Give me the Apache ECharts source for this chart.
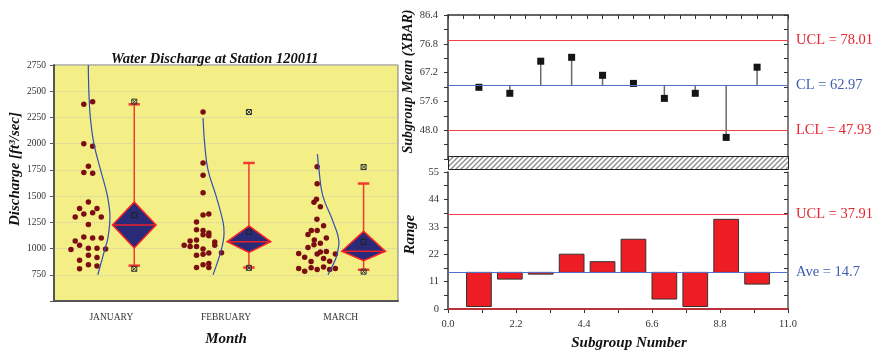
<!DOCTYPE html>
<html>
<head>
<meta charset="utf-8">
<script src="https://cdn.jsdelivr.net/npm/echarts@6/dist/echarts.min.js"></script>
<style>
  html, body { margin: 0; padding: 0; background: #fff; }
  #chart { width: 875px; height: 352px; }
</style>
</head>
<body>
<div id="chart"></div>
<script>
const serif = "'Liberation Serif', 'Times New Roman', serif"

// left chart: discharge per month
const months = ['JANUARY', 'FEBRUARY', 'MARCH']
// [x offset inside the month band, discharge]
const janPoints = [[-0.240, 2375], [-0.163, 2400], [-0.240, 2000], [-0.163, 1975], [-0.200, 1785], [-0.240, 1726], [-0.163, 1717], [-0.200, 1444], [-0.277, 1381], [-0.125, 1381], [-0.315, 1302], [-0.240, 1329], [-0.163, 1342], [-0.088, 1302], [-0.200, 1230], [-0.240, 1110], [-0.163, 1101], [-0.088, 1101], [-0.315, 1072], [-0.277, 1032], [-0.352, 990], [-0.200, 1002], [-0.125, 1002], [-0.050, 996], [-0.200, 936], [-0.125, 915], [-0.277, 888], [-0.200, 846], [-0.125, 834], [-0.277, 807]]
const febPoints = [[-0.200, 2302], [-0.200, 1816], [-0.200, 1699], [-0.200, 1531], [-0.200, 1320], [-0.150, 1329], [-0.257, 1252], [-0.257, 1180], [-0.200, 1171], [-0.200, 1131], [-0.150, 1149], [-0.150, 1122], [-0.313, 1072], [-0.257, 1081], [-0.098, 1063], [-0.098, 1032], [-0.365, 1032], [-0.313, 1020], [-0.257, 1020], [-0.200, 996], [-0.039, 960], [-0.150, 957], [-0.200, 945], [-0.257, 936], [-0.200, 846], [-0.150, 858], [-0.150, 819], [-0.257, 819]]
const marPoints = [[-0.205, 1780], [-0.205, 1617], [-0.211, 1471], [-0.233, 1441], [-0.177, 1399], [-0.207, 1279], [-0.149, 1218], [-0.256, 1171], [-0.205, 1171], [-0.285, 1135], [-0.230, 1081], [-0.125, 1101], [-0.177, 1050], [-0.233, 1036], [-0.285, 1011], [-0.366, 954], [-0.205, 948], [-0.177, 966], [-0.125, 973], [-0.046, 948], [-0.314, 918], [-0.149, 906], [-0.258, 876], [-0.096, 879], [-0.366, 810], [-0.314, 783], [-0.258, 816], [-0.205, 801], [-0.149, 825], [-0.096, 801], [-0.046, 810]]
// distribution curves
const janCurve = [[-0.201, 2750], [-0.196, 2500], [-0.183, 2250], [-0.152, 2000], [-0.094, 1750], [-0.034, 1500], [-0.012, 1300], [-0.030, 1100], [-0.055, 1000], [-0.118, 750]]
const febCurve = [[-0.200, 2245], [-0.186, 2000], [-0.157, 1750], [-0.086, 1500], [-0.025, 1250], [-0.017, 1150], [-0.038, 1000], [-0.113, 750]]
const marCurve = [[-0.203, 1900], [-0.189, 1750], [-0.155, 1500], [-0.064, 1250], [-0.015, 1050], [-0.021, 1000], [-0.044, 900], [-0.111, 750]]
// diamond boxes
const whiskerHigh = [2375, 1816, 1620]
const q3 = [1444, 1216, 1164]
const median = [1225, 1065, 975]
const q1 = [1005, 963, 885]
const whiskerLow = [837, 819, 798]
const means = [1318, 1158, 1063]
const maxs = [2401, 2302, 1777]
const mins = [807, 816, 780]

// right chart: XBAR-R
const subgroups = [1, 2, 3, 4, 5, 6, 7, 8, 9, 10]
const xbar = [62.3, 60.3, 71.0, 72.3, 66.3, 63.6, 58.6, 60.3, 45.6, 69.0]
const ranges = [1, 12, 14, 22, 19, 28, 4, 1, 36, 10]
const xbarUCL = 78.01
const xbarCL = 62.97
const xbarLCL = 47.93
const rangeUCL = 37.91
const rangeAve = 14.7
const rangeLCL = 0

const boxShift = 0.2
const boxHalf = 0.19
const capHalf = 0.05

let pts = [janPoints, febPoints, marPoints]
let curves = [janCurve, febCurve, marCurve]

let hatch = document.createElement('canvas')
hatch.width = 5
hatch.height = 5
let hc = hatch.getContext('2d')
hc.fillStyle = '#fff'
hc.fillRect(0, 0, 5, 5)
hc.strokeStyle = '#222'
hc.lineWidth = 1
hc.beginPath()
hc.moveTo(-1, 6); hc.lineTo(6, -1)
hc.moveTo(-1, 1); hc.lineTo(1, -1)
hc.moveTo(4, 6); hc.lineTo(6, 4)
hc.stroke()

let nameStyle = {fontFamily: serif, fontWeight: 'bold', fontStyle: 'italic', fontSize: 15, color: '#111'}

let series = []
pts.forEach((p, i) => {
  series.push({
    type: 'scatter', xAxisIndex: 1, yAxisIndex: 0, symbolSize: 5.5,
    itemStyle: {color: '#7a0e12', opacity: 1},
    data: p.map(d => [i + 0.5 + d[0], d[1]])
  })
  series.push({
    type: 'line', xAxisIndex: 1, yAxisIndex: 0, symbol: 'none', smooth: 0.4,
    lineStyle: {color: '#2f4fb5', width: 1.2},
    data: curves[i].map(d => [i + 0.5 + d[0], d[1]])
  })
})

series.push({
  type: 'custom', xAxisIndex: 1, yAxisIndex: 0, z: 5,
  data: months.map((m, i) => [i, whiskerLow[i], q1[i], median[i], q3[i], whiskerHigh[i]]),
  renderItem (params, api) {
    let cx = api.value(0) + 0.5 + boxShift
    let lo = api.coord([cx, api.value(1)])
    let b1 = api.coord([cx, api.value(2)])
    let md = api.coord([cx, api.value(3)])
    let b3 = api.coord([cx, api.value(4)])
    let hi = api.coord([cx, api.value(5)])
    let hw = api.size([boxHalf, 0])[0]
    let cw = api.size([capHalf, 0])[0]
    let red = '#f23a2e'
    return {
      type: 'group',
      children: [
        {type: 'line', shape: {x1: lo[0], y1: lo[1], x2: hi[0], y2: hi[1]}, style: {stroke: red, lineWidth: 1.5}},
        {type: 'line', shape: {x1: lo[0] - cw, y1: lo[1], x2: lo[0] + cw, y2: lo[1]}, style: {stroke: red, lineWidth: 2.5}},
        {type: 'line', shape: {x1: hi[0] - cw, y1: hi[1], x2: hi[0] + cw, y2: hi[1]}, style: {stroke: red, lineWidth: 2.5}},
        {type: 'polygon', shape: {points: [[b3[0], b3[1]], [md[0] + hw, md[1]], [b1[0], b1[1]], [md[0] - hw, md[1]]]}, style: {fill: '#2a2b78', stroke: '#ff2222', lineWidth: 1.5}},
        {type: 'line', shape: {x1: md[0] - hw, y1: md[1], x2: md[0] + hw, y2: md[1]}, style: {stroke: '#e8202a', lineWidth: 1.5}}
      ]
    }
  }
})

series.push({
  type: 'scatter', xAxisIndex: 1, yAxisIndex: 0, z: 6, symbol: 'rect', symbolSize: 5,
  itemStyle: {color: 'transparent', borderColor: '#222', borderWidth: 1, opacity: 1},
  data: means.map((v, i) => [i + 0.5 + boxShift, v])
})
series.push({
  type: 'scatter', xAxisIndex: 1, yAxisIndex: 0, z: 6,
  symbol: 'path://M0,0L10,0L10,10L0,10ZM0,0L10,10M10,0L0,10', symbolSize: 5,
  itemStyle: {color: 'transparent', borderColor: '#333', borderWidth: 1, opacity: 1},
  data: maxs.map((v, i) => [i + 0.5 + boxShift, v]).concat(mins.map((v, i) => [i + 0.5 + boxShift, v]))
})

// XBAR chart
let limitLabel = (color) => ({position: 'end', formatter: '{b}', distance: 8, color: color, fontFamily: serif, fontSize: 14.5})
series.push({
  type: 'custom', xAxisIndex: 2, yAxisIndex: 1,
  data: subgroups.map((s, i) => [s, xbar[i]]),
  renderItem (params, api) {
    let a = api.coord([api.value(0), xbarCL])
    let b = api.coord([api.value(0), api.value(1)])
    return {type: 'line', shape: {x1: a[0], y1: a[1], x2: b[0], y2: b[1]}, style: {stroke: '#6a6a6a', lineWidth: 1.5}}
  }
})
series.push({
  type: 'scatter', xAxisIndex: 2, yAxisIndex: 1, symbol: 'rect', symbolSize: 7, z: 4,
  itemStyle: {color: '#151515', opacity: 1},
  data: subgroups.map((s, i) => [s, xbar[i]]),
  markLine: {
    silent: true, symbol: 'none', animation: false,
    data: [
      {name: 'UCL = ' + xbarUCL, yAxis: xbarUCL, lineStyle: {color: '#f0424a', width: 1.2, type: 'solid'}, label: limitLabel('#e8252e')},
      {name: 'CL = ' + xbarCL, yAxis: xbarCL, lineStyle: {color: '#5472c4', width: 1.2, type: 'solid'}, label: limitLabel('#3f5cb4')},
      {name: 'LCL = ' + xbarLCL, yAxis: xbarLCL, lineStyle: {color: '#f0424a', width: 1.2, type: 'solid'}, label: limitLabel('#e8252e')}
    ]
  }
})

// Range chart
series.push({
  type: 'custom', xAxisIndex: 3, yAxisIndex: 3, z: 3,
  data: subgroups.map((s, i) => [s, ranges[i]]),
  renderItem (params, api) {
    let a = api.coord([api.value(0) - 0.4, rangeAve])
    let b = api.coord([api.value(0) + 0.4, api.value(1)])
    return {
      type: 'rect',
      shape: {x: a[0], y: Math.min(a[1], b[1]), width: b[0] - a[0], height: Math.abs(b[1] - a[1])},
      style: {fill: '#ee1d24', stroke: '#333', lineWidth: 1}
    }
  },
  markLine: {
    silent: true, symbol: 'none', animation: false,
    data: [
      {name: 'UCL = ' + rangeUCL, yAxis: rangeUCL, lineStyle: {color: '#f0424a', width: 1.2, type: 'solid'}, label: limitLabel('#e8252e')},
      {name: 'Ave = ' + rangeAve, yAxis: rangeAve, lineStyle: {color: '#5472c4', width: 1.2, type: 'solid'}, label: limitLabel('#3f5cb4')},
      {name: '', yAxis: rangeLCL, lineStyle: {color: '#b8343a', width: 2, type: 'solid'}, label: {show: false}}
    ]
  }
})

let rightLabel = {fontFamily: serif, fontSize: 10.5, color: '#333'}
let darkLine = {lineStyle: {color: '#333', width: 1.5}}

let myChart = echarts.init(document.getElementById('chart'))
myChart.setOption({
  animation: false,
  title: {
    text: 'Water Discharge at Station 120011',
    left: 106, top: 47,
    textStyle: {fontFamily: serif, fontWeight: 'bold', fontStyle: 'italic', fontSize: 14.5, color: '#111'}
  },
  grid: [
    {left: 54, top: 65, width: 344, height: 248, show: true, backgroundColor: '#f4ee86', borderColor: '#7a7a7a', borderWidth: 1},
    {left: 448, top: 15, width: 340, height: 144},
    {left: 448, top: 172, width: 340, height: 140}
  ],
  xAxis: [
    {
      type: 'category', gridIndex: 0, data: months, boundaryGap: true,
      axisLine: {lineStyle: {color: '#555', width: 2}},
      axisTick: {alignWithLabel: true, length: 5, lineStyle: {color: '#555'}},
      axisLabel: {fontFamily: serif, fontSize: 9.5, color: '#333', margin: 11},
      splitLine: {show: false},
      name: 'Month', nameLocation: 'middle', nameGap: 31, nameTextStyle: nameStyle
    },
    {type: 'value', gridIndex: 0, min: 0, max: 3, show: false},
    {
      type: 'value', gridIndex: 1, min: 0, max: 11, interval: 0.5, position: 'top',
      axisLine: darkLine, axisTick: {inside: true, length: 4, lineStyle: {color: '#333'}},
      axisLabel: {show: false}, splitLine: {show: false}
    },
    {
      type: 'value', gridIndex: 2, min: 0, max: 11, interval: 2.2,
      axisLine: darkLine, axisTick: {length: 4, lineStyle: {color: '#333'}},
      minorTick: {show: true, splitNumber: 2, length: 4, lineStyle: {color: '#333'}},
      axisLabel: Object.assign({margin: 10, formatter: v => v.toFixed(1)}, rightLabel),
      splitLine: {show: false},
      name: 'Subgroup Number', nameLocation: 'middle', nameGap: 27,
      nameTextStyle: Object.assign({padding: [0, 0, 0, 22]}, nameStyle)
    }
  ],
  yAxis: [
    {
      type: 'value', gridIndex: 0, min: 500, max: 2750, interval: 250,
      axisLine: {show: true, lineStyle: {color: '#555', width: 2}},
      axisTick: {show: true, length: 4, lineStyle: {color: '#555'}},
      axisLabel: {fontFamily: serif, fontSize: 9.5, color: '#333', margin: 8, formatter: v => v === 500 ? '' : v},
      splitLine: {lineStyle: {color: '#cfcdb0', type: 'dotted'}},
      name: 'Discharge [ft³/sec]', nameLocation: 'middle', nameGap: 30,
      nameTextStyle: Object.assign({padding: [0, 0, 0, 28]}, nameStyle)
    },
    {
      type: 'value', gridIndex: 1, min: 38.4, max: 86.4, interval: 9.6,
      axisLine: {show: true, lineStyle: {color: '#333', width: 1.5}},
      axisTick: {show: true, length: 4, lineStyle: {color: '#333'}},
      minorTick: {show: true, splitNumber: 2, length: 4, lineStyle: {color: '#333'}},
      axisLabel: Object.assign({margin: 10, formatter: v => v < 40 ? '' : v.toFixed(1)}, rightLabel),
      splitLine: {show: false},
      name: 'Subgroup Mean (XBAR)', nameLocation: 'middle', nameGap: 33,
      nameTextStyle: Object.assign({padding: [0, 0, 0, 11]}, nameStyle, {fontSize: 14})
    },
    {
      type: 'value', gridIndex: 1, min: 38.4, max: 86.4, interval: 9.6, position: 'right',
      axisLine: {show: true, lineStyle: {color: '#555', width: 1.5}},
      axisTick: {show: true, inside: true, length: 4, lineStyle: {color: '#333'}},
      minorTick: {show: true, splitNumber: 2, length: 4, lineStyle: {color: '#333'}},
      axisLabel: {show: false}, splitLine: {show: false}
    },
    {
      type: 'value', gridIndex: 2, min: 0, max: 55, interval: 11,
      axisLine: {show: true, lineStyle: {color: '#333', width: 1.5}},
      axisTick: {show: true, length: 4, lineStyle: {color: '#333'}},
      minorTick: {show: true, splitNumber: 2, length: 4, lineStyle: {color: '#333'}},
      axisLabel: Object.assign({margin: 9}, rightLabel),
      splitLine: {show: false},
      name: 'Range', nameLocation: 'middle', nameGap: 30,
      nameTextStyle: Object.assign({padding: [0, 0, 0, 12]}, nameStyle)
    },
    {
      type: 'value', gridIndex: 2, min: 0, max: 55, interval: 11, position: 'right',
      axisLine: {show: true, lineStyle: {color: '#555', width: 1.5}},
      axisTick: {show: true, inside: true, length: 4, lineStyle: {color: '#333'}},
      minorTick: {show: true, splitNumber: 2, length: 4, lineStyle: {color: '#333'}},
      axisLabel: {show: false}, splitLine: {show: false}
    }
  ],
  graphic: [
    {
      type: 'rect', left: 448, top: 156, z: 100,
      shape: {width: 340, height: 13},
      style: {fill: {image: hatch, repeat: 'repeat'}, stroke: '#222', lineWidth: 1}
    }
  ],
  series: series
})
</script>
</body>
</html>
